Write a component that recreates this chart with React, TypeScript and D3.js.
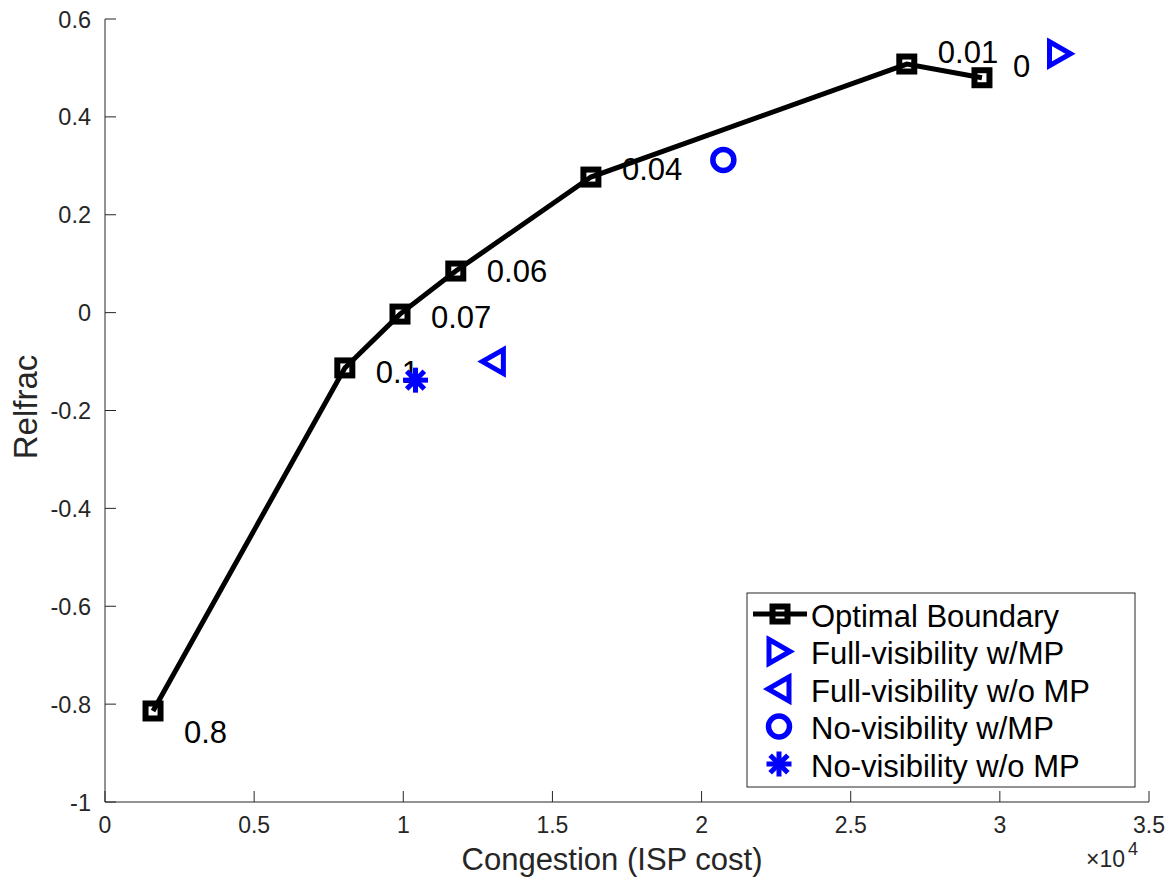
import React from "react";
import * as d3 from "d3";

const boundaryX = [1610, 8040, 9890, 11760, 16290, 26880, 29400];
const boundaryY = [-0.814, -0.113, -0.003, 0.085, 0.277, 0.508, 0.48];
const boundaryLabels = ["0.8", "0.1", "0.07", "0.06", "0.04", "0.01", "0"];
// label baseline offsets (px) relative to each point
const labelDy = [32, 15, 14, 11, 3, -1, -1];

const fullVisMP = { x: 32000, y: 0.529 };
const fullVisNoMP = { x: 13020, y: -0.1 };
const noVisMP = { x: 20730, y: 0.312 };
const noVisNoMP = { x: 10410, y: -0.138 };

const xTicks = [0, 0.5, 1, 1.5, 2, 2.5, 3, 3.5];
const yTicks = [-1, -0.8, -0.6, -0.4, -0.2, 0, 0.2, 0.4, 0.6];

const legendItems = [
  "Optimal Boundary",
  "Full-visibility w/MP",
  "Full-visibility w/o MP",
  "No-visibility w/MP",
  "No-visibility w/o MP",
];

const FONT = "'Liberation Sans', Arial, Helvetica, sans-serif";
const BLUE = "#0000ff";

function Square({ x, y }: { x: number; y: number }) {
  return <rect x={x - 7.5} y={y - 7.5} width={15} height={15} fill="none" stroke="#000" strokeWidth={6} />;
}
function TriRight({ x, y }: { x: number; y: number }) {
  return (
    <path
      d={`M${x - 10},${y - 12}L${x + 11},${y}L${x - 10},${y + 12}Z`}
      fill="none"
      stroke={BLUE}
      strokeWidth={5}
      strokeLinejoin="miter"
    />
  );
}
function TriLeft({ x, y }: { x: number; y: number }) {
  return (
    <path
      d={`M${x + 10},${y - 12}L${x - 11},${y}L${x + 10},${y + 12}Z`}
      fill="none"
      stroke={BLUE}
      strokeWidth={5}
      strokeLinejoin="miter"
    />
  );
}
function Circ({ x, y }: { x: number; y: number }) {
  return <circle cx={x} cy={y} r={10.5} fill="none" stroke={BLUE} strokeWidth={5.5} />;
}
function Aster({ x, y }: { x: number; y: number }) {
  const r = 12.5;
  const lines = [0, 45, 90, 135].map((a) => {
    const rad = (a * Math.PI) / 180;
    return (
      <line
        key={a}
        x1={x - r * Math.cos(rad)}
        y1={y - r * Math.sin(rad)}
        x2={x + r * Math.cos(rad)}
        y2={y + r * Math.sin(rad)}
        stroke={BLUE}
        strokeWidth={5}
      />
    );
  });
  return <g>{lines}</g>;
}

export default function App() {
  const W = 1172;
  const H = 877;
  const x = d3.scaleLinear().domain([0, 35000]).range([105, 1149]);
  const y = d3.scaleLinear().domain([-1, 0.6]).range([802, 19]);

  const pts: [number, number][] = boundaryX.map((v, i) => [x(v), y(boundaryY[i])]);
  const line = d3.line()(pts) || "";

  const axisColor = "#262626";
  const tickLen = 11;

  const legX = 747;
  const legY = 593;
  const legW = 388;
  const legH = 194;
  const rowY = [614, 651.5, 689, 726.5, 764];

  return (
    <div style={{ position: "fixed", left: 0, top: 0, width: W, height: H, overflow: "hidden" }}>
      <svg width={W} height={H} style={{ display: "block", background: "#fff" }} fontFamily={FONT}>
        <rect width={W} height={H} fill="#fff" />
        {/* axes */}
        <line x1={x(0)} y1={y(-1)} x2={x(35000)} y2={y(-1)} stroke={axisColor} strokeWidth={1} />
        <line x1={x(0)} y1={y(-1)} x2={x(0)} y2={y(0.6)} stroke={axisColor} strokeWidth={1} />
        {xTicks.map((t) => (
          <g key={"x" + t}>
            <line x1={x(t * 1e4)} x2={x(t * 1e4)} y1={y(-1)} y2={y(-1) - tickLen} stroke={axisColor} />
            <text x={x(t * 1e4)} y={y(-1) + 31} textAnchor="middle" fontSize={23} fill={axisColor}>
              {String(t)}
            </text>
          </g>
        ))}
        {yTicks.map((t) => (
          <g key={"y" + t}>
            <line x1={x(0)} x2={x(0) + tickLen} y1={y(t)} y2={y(t)} stroke={axisColor} />
            <text x={x(0) - 14} y={y(t) + 8.5} textAnchor="end" fontSize={23.5} fill={axisColor}>
              {String(t)}
            </text>
          </g>
        ))}
        <text x={612} y={870} textAnchor="middle" fontSize={31} fill={axisColor}>
          Congestion (ISP cost)
        </text>
        <text
          transform={`translate(37,407) rotate(-90)`}
          textAnchor="middle"
          fontSize={33}
          fill={axisColor}
        >
          Relfrac
        </text>
        <text x={1086} y={867} fontSize={23} fill={axisColor}>
          ×10
          <tspan fontSize={18} dx={3} dy={-12}>4</tspan>
        </text>

        {/* labels */}
        {pts.map((p, i) => (
          <text
            key={"l" + i}
            x={p[0] + 31}
            y={p[1] + labelDy[i]}
            fontSize={31}
            fill="#000"
          >
            {boundaryLabels[i]}
          </text>
        ))}

        {/* boundary line */}
        <path d={line} fill="none" stroke="#000" strokeWidth={5} strokeLinejoin="miter" />
        {pts.map((p, i) => (
          <Square key={"s" + i} x={p[0]} y={p[1]} />
        ))}

        <TriRight x={x(fullVisMP.x)} y={y(fullVisMP.y)} />
        <TriLeft x={x(fullVisNoMP.x)} y={y(fullVisNoMP.y)} />
        <Circ x={x(noVisMP.x)} y={y(noVisMP.y)} />
        <Aster x={x(noVisNoMP.x)} y={y(noVisNoMP.y)} />

        {/* legend */}
        <rect x={legX} y={legY} width={legW} height={legH} fill="#fff" stroke={axisColor} strokeWidth={1} />
        <line x1={753} x2={807} y1={rowY[0]} y2={rowY[0]} stroke="#000" strokeWidth={5} />
        <Square x={780} y={rowY[0]} />
        <TriRight x={779} y={rowY[1]} />
        <TriLeft x={779} y={rowY[2]} />
        <Circ x={779} y={rowY[3]} />
        <Aster x={779} y={rowY[4]} />
        {legendItems.map((s, i) => (
          <text key={s} x={811} y={rowY[i] + 12.5} fontSize={31} fill="#000">
            {s}
          </text>
        ))}
      </svg>
    </div>
  );
}
